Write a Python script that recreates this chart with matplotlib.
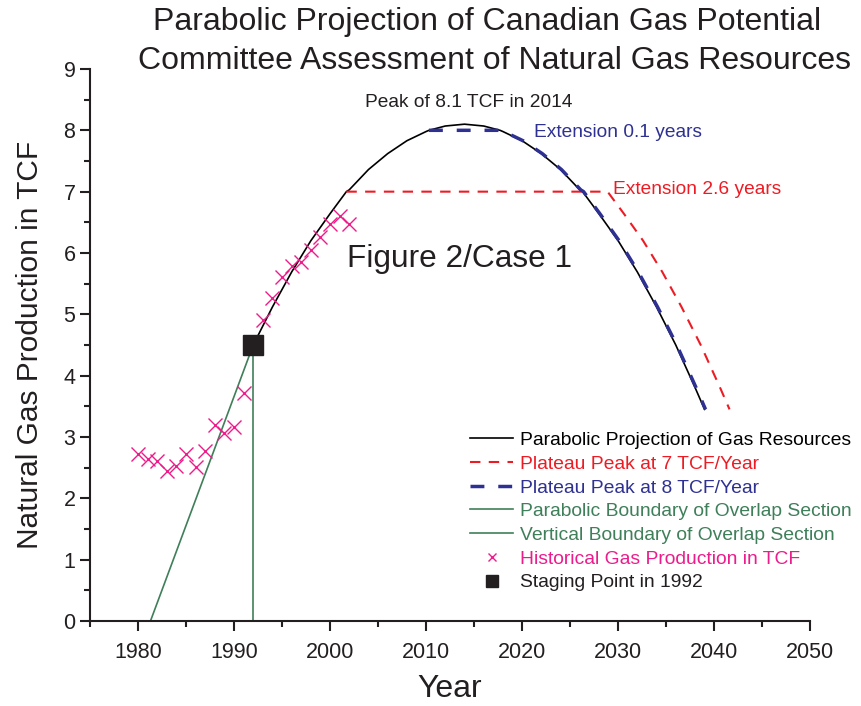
import matplotlib
matplotlib.use("Agg")
import matplotlib.pyplot as plt
from matplotlib.ticker import MultipleLocator

plt.rcParams['font.family'] = ['Liberation Sans', 'DejaVu Sans']

# historical production (TCF per year)
hist_years = [1980, 1981, 1982, 1983, 1984, 1985, 1986, 1987, 1988, 1989, 1990, 1991,
              1993, 1994, 1995, 1996, 1997, 1998, 1999, 2000, 2001, 2002]
hist_vals = [2.72, 2.64, 2.61, 2.45, 2.53, 2.72, 2.51, 2.77, 3.20, 3.07, 3.16, 3.71,
             4.91, 5.26, 5.61, 5.78, 5.85, 6.05, 6.26, 6.48, 6.61, 6.48]

# parabolic projection
proj_years = [1992, 1994, 1996, 1998, 2000, 2001.7, 2002, 2004, 2006, 2008, 2010, 2010.3,
              2012, 2014, 2016, 2017.7, 2018, 2020, 2022, 2024, 2026, 2026.3, 2028,
              2030, 2032, 2034, 2036, 2038, 2039]
proj_vals = [4.50, 5.12, 5.69, 6.20, 6.64, 7.00, 7.03, 7.36, 7.62, 7.83, 7.98, 8.00,
             8.07, 8.10, 8.07, 8.00, 7.98, 7.83, 7.62, 7.36, 7.03, 7.00, 6.64,
             6.20, 5.69, 5.12, 4.50, 3.81, 3.45]

plateau7 = 7.0
ext7 = 2.6
plateau8 = 8.0
ext8 = 0.1

staging_year = 1992
staging_val = 4.5
boundary_years = [1981.3, 1992]
boundary_vals = [0.0, 4.5]


def plateau_curve(level, ext):
    # flat section from first crossing, then the falling side shifted by ext years
    up = [y for y, v in zip(proj_years, proj_vals) if v >= level]
    xs = [up[0]]
    ys = [level]
    for y, v in zip(proj_years, proj_vals):
        if y >= up[-1] and v <= level:
            xs.append(y + ext)
            ys.append(v)
    return xs, ys


fig = plt.figure(figsize=(8.61, 7.06), dpi=100)
ax = fig.add_axes([0.1045, 0.1204, 0.8365, 0.7819])

ink = '#231f20'
red = '#ed1c24'
blue = '#2e3192'
green = '#3f7f5a'
pink = '#ec1c8c'

ax.plot(proj_years, proj_vals, color='black', lw=1.2,
        label='Parabolic Projection of Gas Resources')
x7, y7 = plateau_curve(plateau7, ext7)
ax.plot(x7, y7, color=red, lw=1.5, dashes=(5, 4), label='Plateau Peak at 7 TCF/Year')
x8, y8 = plateau_curve(plateau8, ext8)
ax.plot(x8, y8, color=blue, lw=2.5, dashes=(4, 4), label='Plateau Peak at 8 TCF/Year')
ax.plot(boundary_years, boundary_vals, color=green, lw=1.2,
        label='Parabolic Boundary of Overlap Section')
ax.plot([staging_year, staging_year], [0, staging_val], color=green, lw=1.2,
        label='Vertical Boundary of Overlap Section')
ax.plot(hist_years, hist_vals, 'x', color=pink, ms=10, mew=1.0, ls='none',
        label='Historical Gas Production in TCF')
ax.plot([staging_year], [staging_val], 's', color=ink, ms=14, ls='none',
        label='Staging Point in 1992')

ax.set_xlim(1975, 2050)
ax.set_ylim(0, 9)
ax.xaxis.set_minor_locator(MultipleLocator(5))
ax.yaxis.set_major_locator(MultipleLocator(1))
ax.yaxis.set_minor_locator(MultipleLocator(0.5))
ax.set_xticks([1980, 1990, 2000, 2010, 2020, 2030, 2040, 2050])
for s in ['top', 'right']:
    ax.spines[s].set_visible(False)
for s in ['left', 'bottom']:
    ax.spines[s].set_linewidth(1.5)
    ax.spines[s].set_color(ink)
ax.tick_params(which='major', direction='out', length=7, width=1.5, labelsize=15.5,
               colors=ink)
ax.tick_params(which='minor', direction='out', length=4, width=1.5, colors=ink)
ax.tick_params(axis='x', pad=8)

ax.set_xlabel('Year', fontsize=23, color=ink, labelpad=8)
ax.set_ylabel('Natural Gas Production in TCF', fontsize=21.5, color=ink, labelpad=14)

fig.text(0.566, 0.969, 'Parabolic Projection of Canadian Gas Potential',
         ha='center', va='center', fontsize=23, color=ink)
fig.text(0.574, 0.914, 'Committee Assessment of Natural Gas Resources',
         ha='center', va='center', fontsize=23, color=ink)
ax.text(2014.4, 8.45, 'Peak of 8.1 TCF in 2014', ha='center', va='center',
        fontsize=13.8, color=ink)
ax.text(2013.5, 5.9, 'Figure 2/Case 1', ha='center', va='center',
        fontsize=22.8, color=ink)
ax.text(2021.2, 7.96, 'Extension 0.1 years', ha='left', va='center',
        fontsize=13.8, color=blue)
ax.text(2029.5, 7.03, 'Extension 2.6 years', ha='left', va='center',
        fontsize=13.8, color=red)

leg = ax.legend(loc='upper left', bbox_to_anchor=(0.517, 0.357), frameon=False,
                fontsize=13.9, handlelength=2.25, handletextpad=0.33,
                labelspacing=0.32, borderaxespad=0, labelcolor='linecolor',
                markerscale=0.6)

fig.savefig('out.png', dpi=100)
